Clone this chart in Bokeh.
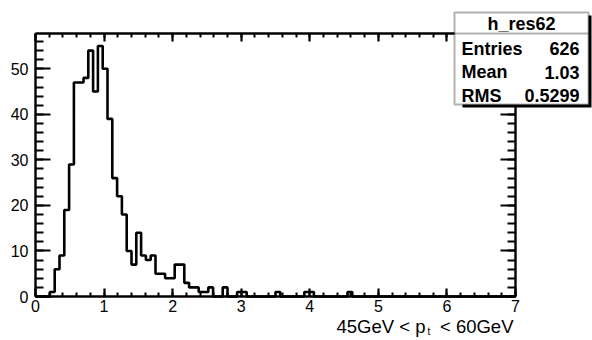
import numpy as np
from bokeh.plotting import figure
from bokeh.models import LinearAxis, FixedTicker, Range1d, Label, BoxAnnotation
from bokeh.embed import file_html
from bokeh.resources import INLINE

# ---- histogram h_res62: 100 bins on [0, 7) ----
x_lo, x_hi, n_bins = 0.0, 7.0, 100
counts = [
    0, 0, 0, 1, 6, 9, 19, 29, 47, 47,
    48, 54, 45, 55, 50, 39, 26, 22, 18, 10,
    7, 14, 9, 8, 9, 5, 5, 4, 4, 7,
    7, 3, 2, 2, 1, 1, 2, 0, 0, 2,
    0, 0, 1, 1, 0, 0, 0, 0, 0, 0,
    1, 0, 0, 0, 0, 0, 1, 1, 0, 0,
    0, 0, 0, 0, 0, 1, 0, 0, 0, 0,
    0, 0, 0, 0, 0, 0, 0, 0, 0, 0,
    0, 0, 0, 0, 0, 0, 0, 0, 0, 0,
    0, 0, 0, 0, 0, 0, 0, 0, 0, 0,
]
x_ticks = [0, 1, 2, 3, 4, 5, 6, 7]
y_ticks = [0, 10, 20, 30, 40, 50]

hist_name = "h_res62"
stats_names = ["Entries", "Mean", "RMS"]
stats_values = ["626", "1.03", "0.5299"]
x_title_parts = ["45GeV < p", "t", "< 60GeV"]

y_max = max(counts) * 1.05

# ---- pad geometry (pixels): the histogram frame sits inside the canvas ----
W, H = 592, 340
FL, FR, FT, FB = 35, 515, 33, 296
FONT = "Liberation Sans"


def dx(px):
    return x_lo + (px - FL) / (FR - FL) * (x_hi - x_lo)


def dy(py):
    return (FB - py) / (FB - FT) * y_max


# the plotting area spans the whole canvas; axes are pinned to the frame edges
p = figure(width=W, height=H, output_backend="svg", toolbar_location=None,
           x_range=Range1d(dx(0), dx(W)), y_range=Range1d(dy(H), dy(0)),
           x_axis_location=None, y_axis_location=None,
           min_border=0)
p.outline_line_color = None
p.background_fill_color = "white"
p.border_fill_color = "white"
for g in p.grid:
    g.visible = False

x_minor = list(np.round(np.arange(0, 7.0001, 0.2), 3))
y_minor = list(range(0, 58, 2))


def make_axis(ticks, minor, bounds, loc, tick_in, minor_in, show_labels, standoff):
    ax = LinearAxis(ticker=FixedTicker(ticks=ticks, minor_ticks=minor),
                    bounds=bounds, fixed_location=loc)
    ax.major_tick_in = tick_in
    ax.major_tick_out = 0
    ax.minor_tick_in = minor_in
    ax.minor_tick_out = 0
    ax.axis_line_width = 2.4
    ax.axis_line_color = "black"
    ax.major_tick_line_width = 2.2
    ax.minor_tick_line_width = 2
    ax.major_tick_line_color = "black"
    ax.minor_tick_line_color = "black"
    ax.major_label_text_font = FONT
    ax.major_label_text_font_size = "16px"
    ax.major_label_standoff = standoff
    ax.major_label_text_color = "black" if show_labels else None
    return ax


p.add_layout(make_axis(x_ticks, x_minor, (x_lo, x_hi), 0, 8, 4, True, 3), "below")
p.add_layout(make_axis(x_ticks, x_minor, (x_lo, x_hi), y_max, 8, 4, False, 3), "above")
p.add_layout(make_axis(y_ticks, y_minor, (0, y_max), x_lo, 15, 8, True, 7), "left")
p.add_layout(make_axis(y_ticks, y_minor, (0, y_max), x_hi, 15, 8, False, 7), "right")

# histogram outline
edges = np.linspace(x_lo, x_hi, n_bins + 1)
p.step(x=edges, y=counts + [counts[-1]], mode="after",
       line_color="black", line_width=2.6)

# x-axis title, right-aligned at the end of the axis (t as a subscript)
p.add_layout(Label(x=dx(425), y=dy(326), text=x_title_parts[0], text_align="right",
                   text_baseline="middle", text_font=FONT,
                   text_font_size="18.5px", text_color="black"))
p.add_layout(Label(x=dx(427), y=dy(331), text=x_title_parts[1], text_align="left",
                   text_baseline="middle", text_font=FONT,
                   text_font_size="10px", text_color="black"))
p.add_layout(Label(x=dx(513), y=dy(326), text=x_title_parts[2], text_align="right",
                   text_baseline="middle", text_font=FONT,
                   text_font_size="18.5px", text_color="black"))

# statistics box with shadow
BL, BR, BT, BB = 454, 588, 12, 104
p.add_layout(BoxAnnotation(left=dx(BL + 8), right=dx(BR + 3), top=dy(BT + 3), bottom=dy(BB + 3),
                           fill_color="black", fill_alpha=1.0, line_color=None))
p.add_layout(BoxAnnotation(left=dx(BL), right=dx(BR), top=dy(BT), bottom=dy(BB),
                           fill_color="white", fill_alpha=1.0,
                           line_color="black", line_width=2))
p.add_layout(BoxAnnotation(left=dx(BL), right=dx(BR), top=dy(33), bottom=dy(33),
                           fill_color=None, line_color="black", line_width=2))

p.add_layout(Label(x=dx((BL + BR) / 2), y=dy(23), text=hist_name, text_align="center",
                   text_baseline="middle", text_font=FONT, text_font_style="bold",
                   text_font_size="18px", text_color="black"))
for i, (name, val) in enumerate(zip(stats_names, stats_values)):
    yy = dy(48 + 23.5 * i)
    p.add_layout(Label(x=dx(461), y=yy, text=name, text_align="left",
                       text_baseline="middle", text_font=FONT, text_font_style="bold",
                       text_font_size="18px", text_color="black"))
    p.add_layout(Label(x=dx(579), y=yy, text=val, text_align="right",
                       text_baseline="middle", text_font=FONT, text_font_style="bold",
                       text_font_size="18px", text_color="black"))

open("out.html", "w").write(file_html(p, INLINE))
